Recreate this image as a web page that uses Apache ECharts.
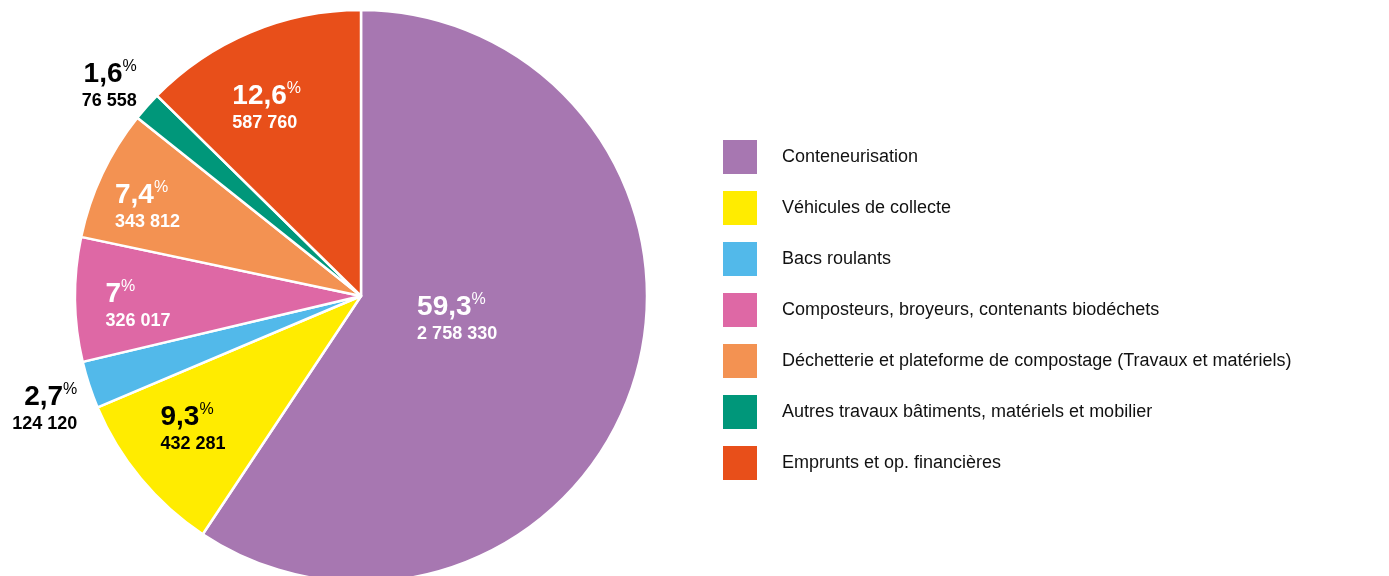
<!DOCTYPE html>
<html>
<head>
<meta charset="utf-8">
<script src="https://cdn.jsdelivr.net/npm/echarts@6/dist/echarts.min.js"></script>
<style>
  html, body { margin: 0; padding: 0; background: #fff; }
  #chart { width: 1389px; height: 576px; }
</style>
</head>
<body>
<div id="chart"></div>
<script>
// donnees
const categories = [
  'Conteneurisation',
  'Véhicules de collecte',
  'Bacs roulants',
  'Composteurs, broyeurs, contenants biodéchets',
  'Déchetterie et plateforme de compostage (Travaux et matériels)',
  'Autres travaux bâtiments, matériels et mobilier',
  'Emprunts et op. financières'
];
const amounts = [2758330, 432281, 124120, 326017, 343812, 76558, 587760];
const pctLabels = ['59,3', '9,3', '2,7', '7', '7,4', '1,6', '12,6'];

const colors = ['#A777B1', '#FFEC00', '#52B9EA', '#DE68A5', '#F39252', '#00977A', '#E84F1A'];
const labelColors = ['#fff', '#000', '#000', '#fff', '#fff', '#000', '#fff'];
// distance au centre de chaque etiquette, et petits decalages (padding)
const labelRadius = [99, 212, 336, 224, 233, 332, 215];
const labelOutside = [false, false, true, false, false, true, false];
const labelPadding = [
  [0, 3, 13, 0], [0, 5, 9, 0], [14, 0, 0, 12], [14, 0, 0, 8],
  [22, 0, 0, 0], [24, 2, 0, 0], [26, 20, 0, 0]
];

const CENTER = [361, 296];
const R = 286;
const FONT = 'Arial, "Liberation Sans", sans-serif';

function fmt(v) {
  return String(v).replace(/\B(?=(\d{3})+(?!\d))/g, ' ');
}

function labelSeries(k) {
  const col = labelColors[k];
  const al = labelOutside[k] ? 'right' : 'left';
  return {
    type: 'pie',
    center: CENTER,
    radius: [labelRadius[k] - 20, labelRadius[k] + 20],
    startAngle: 90,
    silent: true,
    legendHoverLink: false,
    avoidLabelOverlap: false,
    emphasis: { disabled: true },
    labelLine: { show: false },
    itemStyle: { color: 'rgba(0,0,0,0)', borderWidth: 0 },
    data: categories.map(function (c, i) {
      return {
        name: c,
        value: amounts[i],
        label: {
          show: i === k,
          position: 'inside',
          padding: labelPadding[k],
          formatter: '{p|' + pctLabels[i] + '}{s|%}\n{v|' + fmt(amounts[i]) + '}',
          rich: {
            p: { fontSize: 28, fontWeight: 'bold', fontFamily: FONT, lineHeight: 31, color: col, align: al },
            s: { fontSize: 16, fontFamily: FONT, lineHeight: 24, verticalAlign: 'top', color: col, align: al },
            v: { fontSize: 18, fontWeight: 'bold', fontFamily: FONT, lineHeight: 23, color: col, align: al }
          }
        }
      };
    })
  };
}

const series = [{
  type: 'pie',
  center: CENTER,
  radius: R,
  startAngle: 90,
  avoidLabelOverlap: false,
  label: { show: false },
  labelLine: { show: false },
  itemStyle: { borderColor: '#fff', borderWidth: 2.5 },
  data: categories.map(function (c, i) {
    return { name: c, value: amounts[i] };
  })
}];
for (let k = 0; k < categories.length; k++) {
  series.push(labelSeries(k));
}

const chart = echarts.init(document.getElementById('chart'));
chart.setOption({
  animation: false,
  color: colors,
  legend: {
    orient: 'vertical',
    left: 723,
    top: 140,
    padding: 0,
    itemWidth: 34,
    itemHeight: 34,
    itemGap: 17,
    icon: 'rect',
    selectedMode: false,
    data: categories,
    itemStyle: { borderWidth: 0 },
    textStyle: {
      fontSize: 18,
      fontFamily: FONT,
      color: '#111',
      padding: [0, 0, 0, 20]
    }
  },
  series: series
});
</script>
</body>
</html>
